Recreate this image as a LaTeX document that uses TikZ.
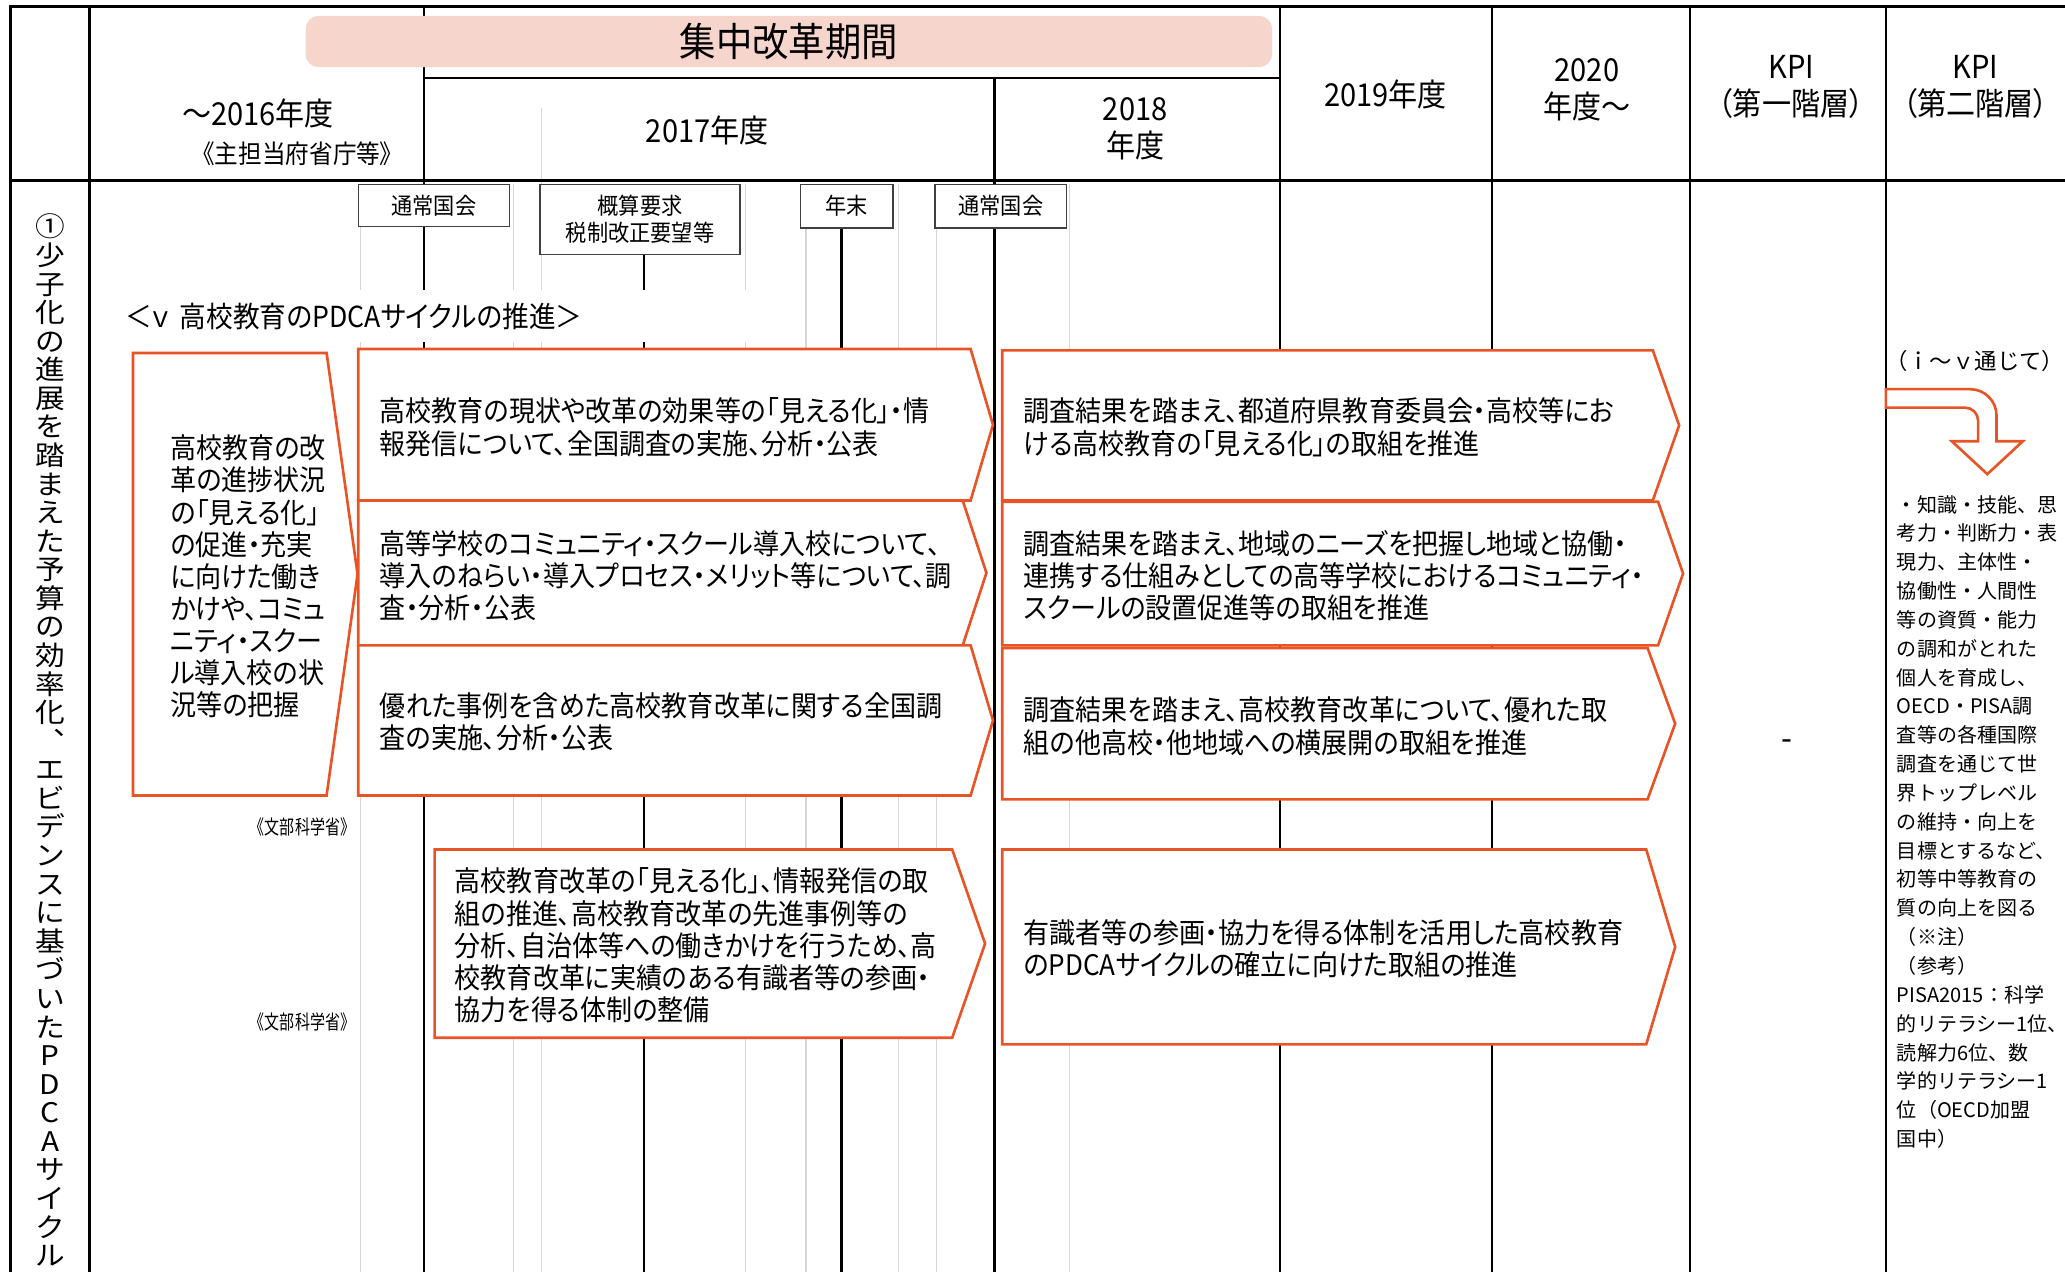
\documentclass[tikz,border=0pt]{standalone}
\usepackage{fontspec}
\setmainfont{Noto Sans CJK JP}[FakeStretch=0.92, RawFeature={+palt}]
\newfontfamily\kpifont{Noto Sans CJK JP}
\newfontfamily\narrowfont{Noto Sans CJK JP}[FakeStretch=0.76]
\newfontfamily\vertfont{Noto Sans CJK JP}[FakeStretch=1.1]
\usetikzlibrary{positioning}

\definecolor{reformorange}{RGB}{233,84,39}
\definecolor{bandpink}{RGB}{246,214,204}
\definecolor{guidegray}{RGB}{214,214,214}
\newcommand{\fsz}[2]{\fontsize{#1}{#2}\selectfont}
% orange step box: left, top, bottom, corner x, tip x
\newcommand{\stepshape}[5]{%
  \draw[stepline] (#1,#2) -- (#4,#2) -- (#5,{(#2+#3)/2}) -- (#4,#3) -- (#1,#3) -- cycle;}

\begin{document}
\begin{tikzpicture}[x=0.5pt, y=-0.5pt,
    rule/.style={line width=0.9pt},
    guide/.style={draw=guidegray, line width=0.4pt},
    stepline/.style={draw=reformorange, line width=1pt, fill=white},
    evbox/.style={draw=black!75, line width=0.5pt, fill=white, inner sep=0pt, align=center, font=\fsz{8.75}{10}},
    hdr/.style={inner sep=0pt, align=center, font=\fsz{12}{14}},
    steptext/.style={inner sep=0pt, anchor=west, align=left, font=\fsz{10.75}{12.25}},
    ministry/.style={inner sep=0pt, anchor=east, font=\narrowfont\fsz{7.5}{9}},
  ]
  \clip (0,0) rectangle (1568,966);

  % thin guides under the calendar events
  \foreach \x in {274,390,566,612,682,711,812}
    \draw[guide] (\x,140) -- (\x,966);
  \draw[guide] (411,82) -- (411,966);

  % calendar stems and column rules
  \draw[rule] (489,193) -- (489,966);
  \draw[rule] (639,173) -- (639,966);
  \draw[rule] (755,59) -- (755,966);
  \foreach \x in {68,322,972,1133,1283,1432}
    \draw[rule] (\x,5) -- (\x,966);
  \draw[rule] (8,966) -- (8,5) -- (1568,5);
  \draw[rule] (8,137) -- (1568,137);
  \draw[rule] (322,59) -- (972,59);

  % header
  \node[hdr, font=\fsz{15}{18}, fill=bandpink, rounded corners=5pt, minimum width=367pt, minimum height=19.5pt] (focus) at (599,31.5) {集中改革期間};
  \node[hdr] (y2016) at (196,86) {～2016年度};
  \node[hdr, font=\fsz{9.75}{12}] (owner) at (226,117) {《主担当府省庁等》};
  \node[hdr] (y2017) at (537,99) {2017年度};
  \node[hdr] (y2018) at (862,98) {2018\\年度};
  \node[hdr] (y2019) at (1052,72) {2019年度};
  \node[hdr] (y2020) at (1205,68) {2020\\年度～};
  \node[hdr, font=\fsz{12}{14}] (kpione) at (1360,66) {KPI\\（第一階層）};
  \node[hdr, font=\fsz{12}{14}] (kpitwo) at (1500,66) {KPI\\（第二階層）};

  % theme written downwards
  \node[inner sep=0pt, align=center, font=\vertfont\fsz{10.25}{10.85}] (theme) at (38,562)
    {①\\少\\子\\化\\の\\進\\展\\を\\踏\\ま\\え\\た\\予\\算\\の\\効\\率\\化\\︑\\エ\\ビ\\デ\\ン\\ス\\に\\基\\づ\\い\\た\\P\\D\\C\\A\\サ\\イ\\ク\\ル};

  % calendar events
  \node[inner xsep=5pt, inner ysep=0pt, fill=white, anchor=west, text width=247.5pt, minimum height=19.5pt, align=left, font=\fsz{11}{12}] (pdca) at (85,240) {＜ｖ\ 高校教育のPDCAサイクルの推進＞};
  \node[evbox, minimum width=57.5pt, minimum height=16pt] (diet1) at (329.5,156) {通常国会};
  \node[evbox, minimum width=76pt, minimum height=26.5pt] (budget) at (486,166.5) {概算要求\\税制改正要望等};
  \node[evbox, minimum width=35pt, minimum height=16.5pt] (yearend) at (643,156.5) {年末};
  \node[evbox, minimum width=50pt, minimum height=16.5pt] (diet2) at (760,156.5) {通常国会};

  % step boxes
  \stepshape{101}{268}{604}{248}{271.5}
  \stepshape{272}{265}{380}{737}{754}
  \stepshape{272}{380}{490}{731}{749}
  \stepshape{272}{490}{604}{737}{754}
  \stepshape{330}{645}{788}{723}{748}
  \stepshape{761}{266}{380}{1255}{1275}
  \stepshape{761}{381}{490}{1259}{1278}
  \stepshape{761}{492}{607}{1251}{1272}
  \stepshape{761}{645}{793}{1250}{1272}

  \node[steptext, font=\fsz{10.75}{12.2}] (survey) at (129,437.8) {高校教育の改\\革の進捗状況\\の「見える化」\\の促進・充実\\に向けた働き\\かけや、コミュ\\ニティ・スクー\\ル導入校の状\\況等の把握};
  \node[steptext] (visL) at (288,324.5) {高校教育の現状や改革の効果等の「見える化」・情\\報発信について、全国調査の実施、分析・公表};
  \node[steptext] (csL) at (288,437) {高等学校のコミュニティ・スクール導入校について、\\導入のねらい・導入プロセス・メリット等について、調\\査・分析・公表};
  \node[steptext] (caseL) at (288,548) {優れた事例を含めた高校教育改革に関する全国調\\査の実施、分析・公表};
  \node[steptext] (expL) at (345,718) {高校教育改革の「見える化」、情報発信の取\\組の推進、高校教育改革の先進事例等の\\分析、自治体等への働きかけを行うため、高\\校教育改革に実績のある有識者等の参画・\\協力を得る体制の整備};
  \node[steptext] (visR) at (777,324.5) {調査結果を踏まえ、都道府県教育委員会・高校等にお\\ける高校教育の「見える化」の取組を推進};
  \node[steptext] (csR) at (777,437) {調査結果を踏まえ、地域のニーズを把握し地域と協働・\\連携する仕組みとしての高等学校におけるコミュニティ・\\スクールの設置促進等の取組を推進};
  \node[steptext] (caseR) at (777,551.5) {調査結果を踏まえ、高校教育改革について、優れた取\\組の他高校・他地域への横展開の取組を推進};
  \node[steptext] (expR) at (777,720.5) {有識者等の参画・協力を得る体制を活用した高校教育\\のPDCAサイクルの確立に向けた取組の推進};

  \node[ministry] (mext1) at (270,628) {《文部科学省》};
  \node[ministry] (mext2) at (270,776) {《文部科学省》};

  % KPI columns
  \node[inner sep=0pt, font=\fsz{13}{14}] (kpinone) at (1357,566) {-};
  \node[inner sep=0pt, anchor=west, font=\kpifont\fsz{8.5}{10}] (through) at (1431,274) {（ｉ～ｖ通じて）};
  \draw[stepline] (1432,295.5) -- (1496,295.5) arc[start angle=-90, end angle=0, radius=20]
    -- (1516,335) -- (1536,335) -- (1509,360) -- (1482,335) -- (1502,335) -- (1502,319.5)
    arc[start angle=0, end angle=-90, radius=10] -- (1432,309.5) -- cycle;
  \node[inner sep=0pt, anchor=west, align=left, font=\kpifont\fsz{7.6}{10.95}] (goal) at (1440,624)
    {・知識・技能、思\\考力・判断力・表\\現力、主体性・\\協働性・人間性\\等の資質・能力\\の調和がとれた\\個人を育成し、\\OECD・PISA調\\査等の各種国際\\調査を通じて世\\界トップレベル\\の維持・向上を\\目標とするなど、\\初等中等教育の\\質の向上を図る\\（※注）\\（参考）\\PISA2015：科学\\的リテラシー1位、\\読解力6位、数\\学的リテラシー1\\位（OECD加盟\\国中）};
\end{tikzpicture}
\end{document}
